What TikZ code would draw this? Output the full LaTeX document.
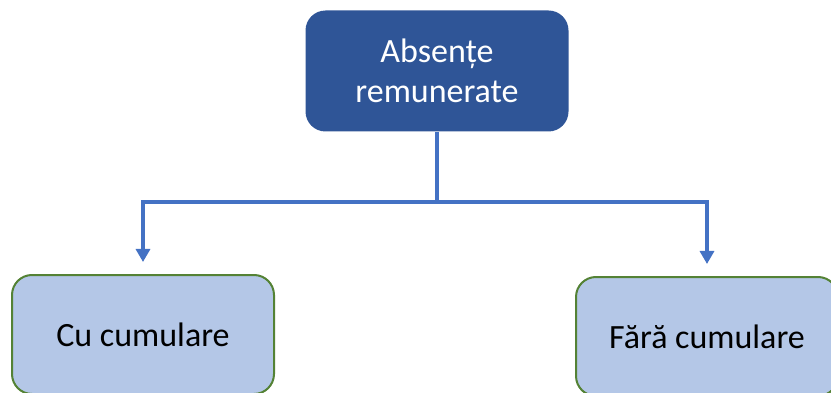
\documentclass[tikz,border=0pt]{standalone}
\usepackage{fontspec}
\setmainfont{Carlito}
\usepackage{tikz}
\usetikzlibrary{
  arrows.meta,
  positioning}

\definecolor{headblue}{HTML}{2F5597}
\definecolor{linkblue}{HTML}{4472C4}
\definecolor{leafblue}{HTML}{B4C7E7}
\definecolor{leafgreen}{HTML}{548235}

\begin{document}
\begin{tikzpicture}[
  headbox/.style={rectangle, rounded corners=20pt, fill=headblue, text=white,
    minimum width=263pt, minimum height=121pt, align=center,
    font=\fontsize{34}{40}\selectfont},
  leafbox/.style={rectangle, rounded corners=20pt, fill=leafblue, draw=leafgreen,
    line width=2pt, minimum width=262pt, minimum height=119pt, align=center,
    font=\fontsize{34}{40}\selectfont},
  link/.style={draw=linkblue, line width=3.2pt},
  linkarrow/.style={link, -{Triangle[width=14pt,length=13pt]}, shorten >=12pt}
]
\useasboundingbox (0,0) rectangle (831pt,-393pt);
\clip (0,0) rectangle (831pt,-393pt);

\node[headbox] (head) at (437pt,-71pt) {Absențe\\remunerate};
\node[leafbox] (cumul) at (143pt,-334.5pt) {Cu cumulare};
\node[leafbox] (fara) at (707pt,-336.5pt) {Fără cumulare};

\coordinate (split) at (437pt,-202pt);

\draw[link] (head.south) -- (split);
\draw[linkarrow] (split) -| (cumul.north);
\draw[linkarrow] (split) -| (fara.north);

\end{tikzpicture}
\end{document}
